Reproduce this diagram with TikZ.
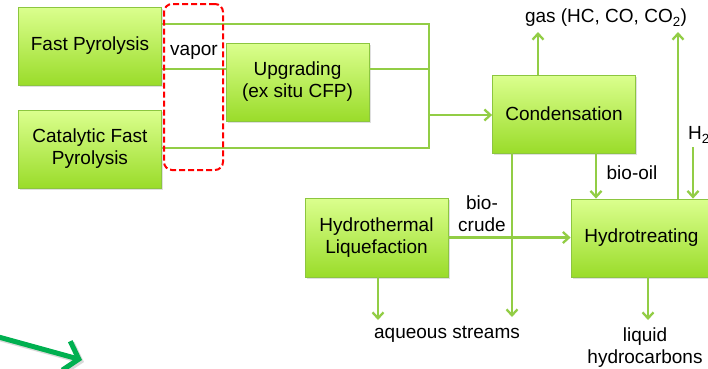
\documentclass[tikz,border=0pt]{standalone}
\usepackage{fontspec}
\setmainfont{Liberation Sans}
\usetikzlibrary{arrows.meta,shadows}
\definecolor{boxtop}{HTML}{DBFF8E}
\definecolor{boxbot}{HTML}{9ADC2A}
\definecolor{boxedge}{HTML}{8CC63F}
\definecolor{conn}{HTML}{92CD45}
\definecolor{bigarrow}{HTML}{00B050}
\tikzset{
  procbox/.style={draw=boxedge, line width=0.8pt, top color=boxtop, bottom color=boxbot,
    minimum width=143pt, minimum height=78pt, align=center, inner sep=0pt,
    font=\fontsize{19}{22}\selectfont,
    drop shadow={opacity=0.25, shadow xshift=1.5pt, shadow yshift=-1.5pt}},
  lbl/.style={align=center, inner sep=0pt, font=\fontsize{19}{22}\selectfont},
  flow/.style={draw=conn, line width=2.3pt},
  flowarr/.style={flow, -{Straight Barb[length=6pt,width=11pt,line width=2.3pt]}},
}
\begin{document}
\begin{tikzpicture}[x=1pt,y=-1pt]
\useasboundingbox (0,0) rectangle (708,368);
\clip (0,0) rectangle (708,368);
% boxes
\node[procbox] (FP) at (90,46) {Fast Pyrolysis};
\node[procbox] (CFP) at (90,149) {Catalytic Fast\\Pyrolysis};
\node[procbox] (UP) at (297.5,82) {Upgrading\\(ex situ CFP)};
\node[procbox] (COND) at (564,114) {Condensation};
\node[procbox, minimum height=79pt] (HTL) at (376.5,237.5) {Hydrothermal\\Liquefaction};
\node[procbox, minimum width=141pt] (HT) at (641.5,238) {Hydrotreating};
% labels
\node[lbl] (gas) at (606,18) {gas (HC, CO, CO\textsubscript{2})};
\node[lbl] (h2) at (699,135) {H\textsubscript{2}};
\node[lbl] (biooil) at (632,173) {bio-oil};
\node[lbl] (biocrude) at (482,214) {bio-\\crude};
\node[lbl] (aq) at (447,334) {aqueous streams};
\node[lbl] (lh) at (645,348) {liquid\\hydrocarbons};
% junction coordinates
\coordinate (j1) at (429,24);
\coordinate (j2) at (429,148);
\coordinate (j3) at (429,69);
\coordinate (j4) at (429,115);
\coordinate (gasA) at (538,32);
\coordinate (gasB) at (678,32);
\coordinate (h2s) at (693,147);
\coordinate (aqA) at (512,317);
\coordinate (aqB) at (378,320);
\coordinate (lhA) at (648,320);
% connectors
\draw[flow] (FP.east |- j1) -- (j1) -- (j2) -- (CFP.east |- j2);
\draw[flow] (FP.east |- j3) -- (UP.west |- j3);
\draw[flow] (UP.east |- j3) -- (j3);
\draw[flowarr] (j4) -- (COND.west |- j4);
\draw[flowarr] (COND.north -| gasA) -- (gasA);
\draw[flowarr] (HT.north -| gasB) -- (gasB);
\draw[flowarr] (h2s) -- (HT.north -| h2s);
\draw[flowarr] (COND.south -| 596,0) -- (HT.north -| 596,0);
\draw[flowarr] (COND.south -| aqA) -- (aqA);
\draw[flowarr] (HTL.east) -- (HT.west |- HTL.east);
\draw[flowarr] (HTL.south -| aqB) -- (aqB);
\draw[flowarr] (HT.south -| lhA) -- (lhA);
% red dashed frame
\node[draw=red, line width=2pt, rounded corners=8pt, minimum width=59pt, minimum height=166pt, inner sep=0pt, dash pattern=on 6pt off 3pt] (frame) at (193.5,87) {};
\node[lbl, fill=white, inner sep=1pt] (vap) at (194,52) {vapor};
% big green arrow
\coordinate (gs) at (-5,336);
\coordinate (ge) at (82,360);
\draw[draw=black, opacity=0.15, line width=5pt, -{Straight Barb[length=13pt,width=30pt,line width=5pt]}] ([shift={(2,2)}]gs) -- ([shift={(2,2)}]ge);
\draw[draw=bigarrow, line width=5pt, -{Straight Barb[length=13pt,width=30pt,line width=5pt]}] (gs) -- (ge);
\end{tikzpicture}
\end{document}
